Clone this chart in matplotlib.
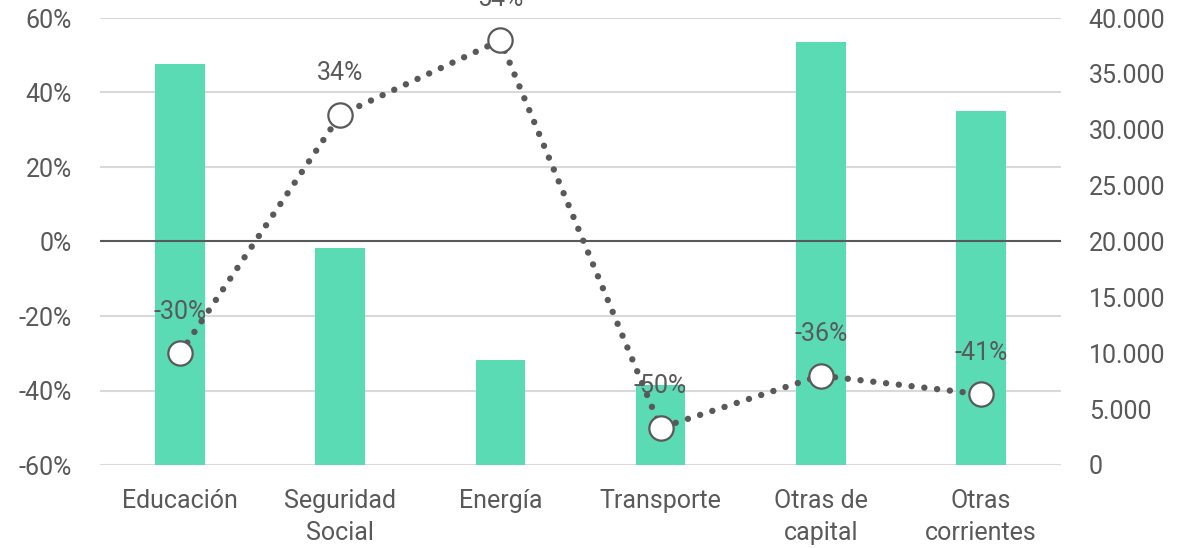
import numpy as np
import matplotlib.pyplot as plt
from matplotlib.ticker import FuncFormatter

categories = ["Educación", "Seguridad\nSocial", "Energía", "Transporte", "Otras de\ncapital", "Otras\ncorrientes"]
gasto = [35900, 19400, 9400, 7150, 37850, 31650]
variacion = [-0.30, 0.34, 0.54, -0.50, -0.36, -0.41]
pct_ticks = [-0.6, -0.4, -0.2, 0.0, 0.2, 0.4, 0.6]
abs_ticks = [0, 5000, 10000, 15000, 20000, 25000, 30000, 35000, 40000]

txt = "#595959"
plt.rcParams['font.family'] = ['Roboto', 'DejaVu Sans']
fs = 18

fig = plt.figure(figsize=(11.92, 5.48), dpi=100)
ax = fig.add_axes([100 / 1192, 1 - 465 / 548, 961 / 1192, 447 / 548])
x = np.arange(len(categories))

# bars on the right-hand scale
ax.set_ylim(0, 40000)
ax.set_xlim(-0.5, len(categories) - 0.5)
for p in pct_ticks:
    if p == 0:
        continue
    ax.axhline((p + 0.6) / 1.2 * 40000, color="#d9d9d9", lw=1.5, zorder=0)
ax.bar(x, gasto, width=0.31, color="#5bdbb4", zorder=2)
ax.axhline(20000, color=txt, lw=1.5, zorder=3)
ax.set_xticks(x)
ax.set_xticklabels(categories)

# line on the left-hand scale
ax2 = ax.twinx()
ax.yaxis.tick_right()
ax.set_yticks(abs_ticks)
ax.yaxis.set_major_formatter(FuncFormatter(lambda v, _: f"{int(v):,}".replace(",", ".")))
ax2.yaxis.tick_left()
ax2.set_ylim(-0.6, 0.6)
ax2.set_yticks(pct_ticks)
ax2.yaxis.set_major_formatter(FuncFormatter(lambda v, _: f"{v * 100:.0f}%"))
ax2.plot(x, variacion, color=txt, lw=4.6, linestyle=(0, (0.01, 2.0)),
         dash_capstyle="round", zorder=3)
ax2.plot(x, variacion, linestyle="none", marker="o", ms=17.5, mfc="white",
         mec=txt, mew=1.6, zorder=4)
for xi, v in zip(x, variacion):
    ax2.annotate(f"{v * 100:.0f}%", (xi, v), xytext=(0, 30), textcoords="offset points",
                 ha="center", va="center", fontsize=fs, color=txt, annotation_clip=False,
                 zorder=5)

for a in (ax, ax2):
    for s in a.spines.values():
        s.set_visible(False)
    a.tick_params(length=0, labelsize=fs, labelcolor=txt)
ax.tick_params(axis="y", pad=20)
ax2.tick_params(axis="y", pad=20)
ax.tick_params(axis="x", pad=17)
for lab in ax.get_xticklabels():
    lab.set_linespacing(1.45)

fig.savefig("out.png", dpi=100)
